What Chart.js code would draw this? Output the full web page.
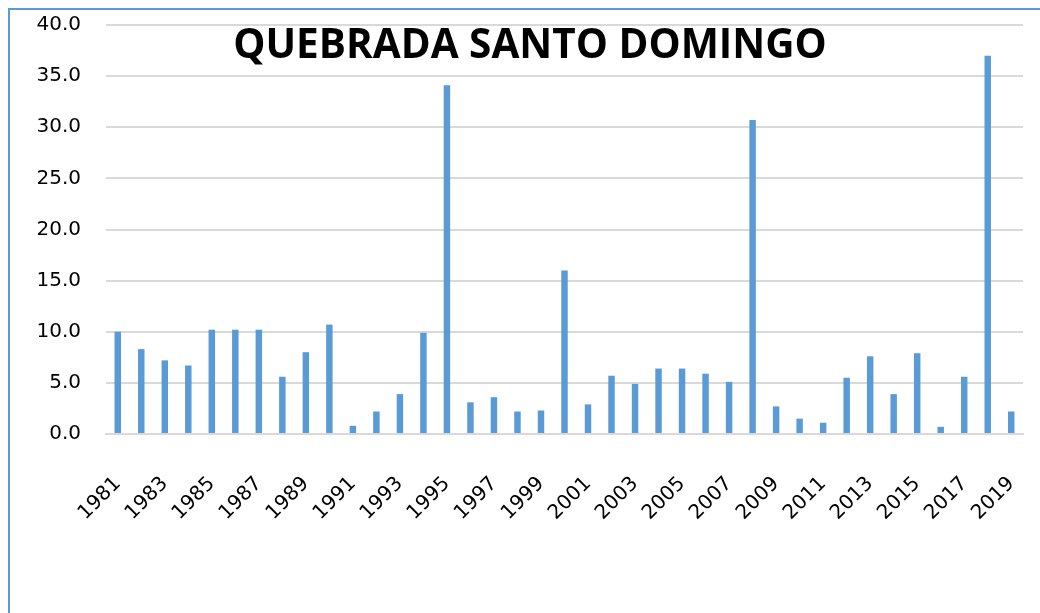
<!DOCTYPE html>
<html>
<head>
<meta charset="utf-8">
<script src="https://cdn.jsdelivr.net/npm/chart.js@4"></script>
<style>
  body { margin: 0; background: #fff; overflow: hidden; }
  #frame { position: absolute; left: 8px; top: 8px; width: 1100px; height: 700px;
           border-left: 2px solid #5b9bd5; border-top: 2px solid #5b9bd5; }
  #wrap { position: absolute; left: 0; top: 0; width: 1040px; height: 613px; }
</style>
</head>
<body>
<div id="frame"></div>
<div id="wrap"><canvas id="myChart"></canvas></div>
<script>
const years = [];
for (let y = 1981; y <= 2019; y++) years.push(String(y));
const values = [
  10.0, 8.3, 7.2, 6.7, 10.2, 10.2, 10.2, 5.6, 8.0, 10.7,
  0.8, 2.2, 3.9, 9.9, 34.1, 3.1, 3.6, 2.2, 2.3, 16.0,
  2.9, 5.7, 4.9, 6.4, 6.4, 5.9, 5.1, 30.7, 2.7, 1.5,
  1.1, 5.5, 7.6, 3.9, 7.9, 0.7, 5.6, 37.0, 2.2
];
const chartTitle = "QUEBRADA SANTO DOMINGO";

// title sits on top of the plot, like the original
const titleOverlay = {
  id: "titleOverlay",
  afterDraw(chart) {
    const ctx = chart.ctx;
    ctx.save();
    ctx.font = "bold 40.5px 'Open Sans'";
    ctx.fillStyle = "#000";
    ctx.textAlign = "center";
    ctx.textBaseline = "alphabetic";
    ctx.fillText(chartTitle, 530, 58);
    ctx.restore();
  }
};

new Chart("myChart", {
  type: "bar",
  data: {
    labels: years,
    datasets: [
      {
        data: values,
        backgroundColor: "#5b9bd5",
        barPercentage: 0.55,
        categoryPercentage: 0.5,
      },
    ],
  },
  options: {
    responsive: true,
    maintainAspectRatio: false,
    animation: false,
    layout: { padding: { left: 0, right: 17, top: 25, bottom: 59 } },
    plugins: {
      legend: { display: false },
      tooltip: { enabled: false },
    },
    scales: {
      x: {
        grid: { display: false, drawTicks: false },
        border: { display: true, color: "#d9d9d9", width: 2 },
        afterFit(scale) {
          scale.height = 120;
          scale.paddingLeft = 0;
          scale.paddingRight = 0;
        },
        ticks: {
          autoSkip: false,
          maxRotation: 45,
          minRotation: 45,
          padding: 38,
          color: "#000",
          font: { family: "'DejaVu Sans'", size: 20 },
          callback(v, i) { return i % 2 === 0 ? years[i] : ""; },
        },
      },
      y: {
        min: 0,
        max: 40,
        afterFit(scale) {
          scale.width = 106;
          scale.paddingTop = 0;
          scale.paddingBottom = 0;
        },
        grid: { color: "#d9d9d9", lineWidth: 2, drawTicks: false },
        border: { display: false },
        ticks: {
          stepSize: 5,
          padding: 25,
          color: "#000",
          font: { family: "'DejaVu Sans'", size: 20 },
          callback(v) { return v.toFixed(1); },
        },
      },
    },
  },
  plugins: [titleOverlay],
});
</script>
</body>
</html>
